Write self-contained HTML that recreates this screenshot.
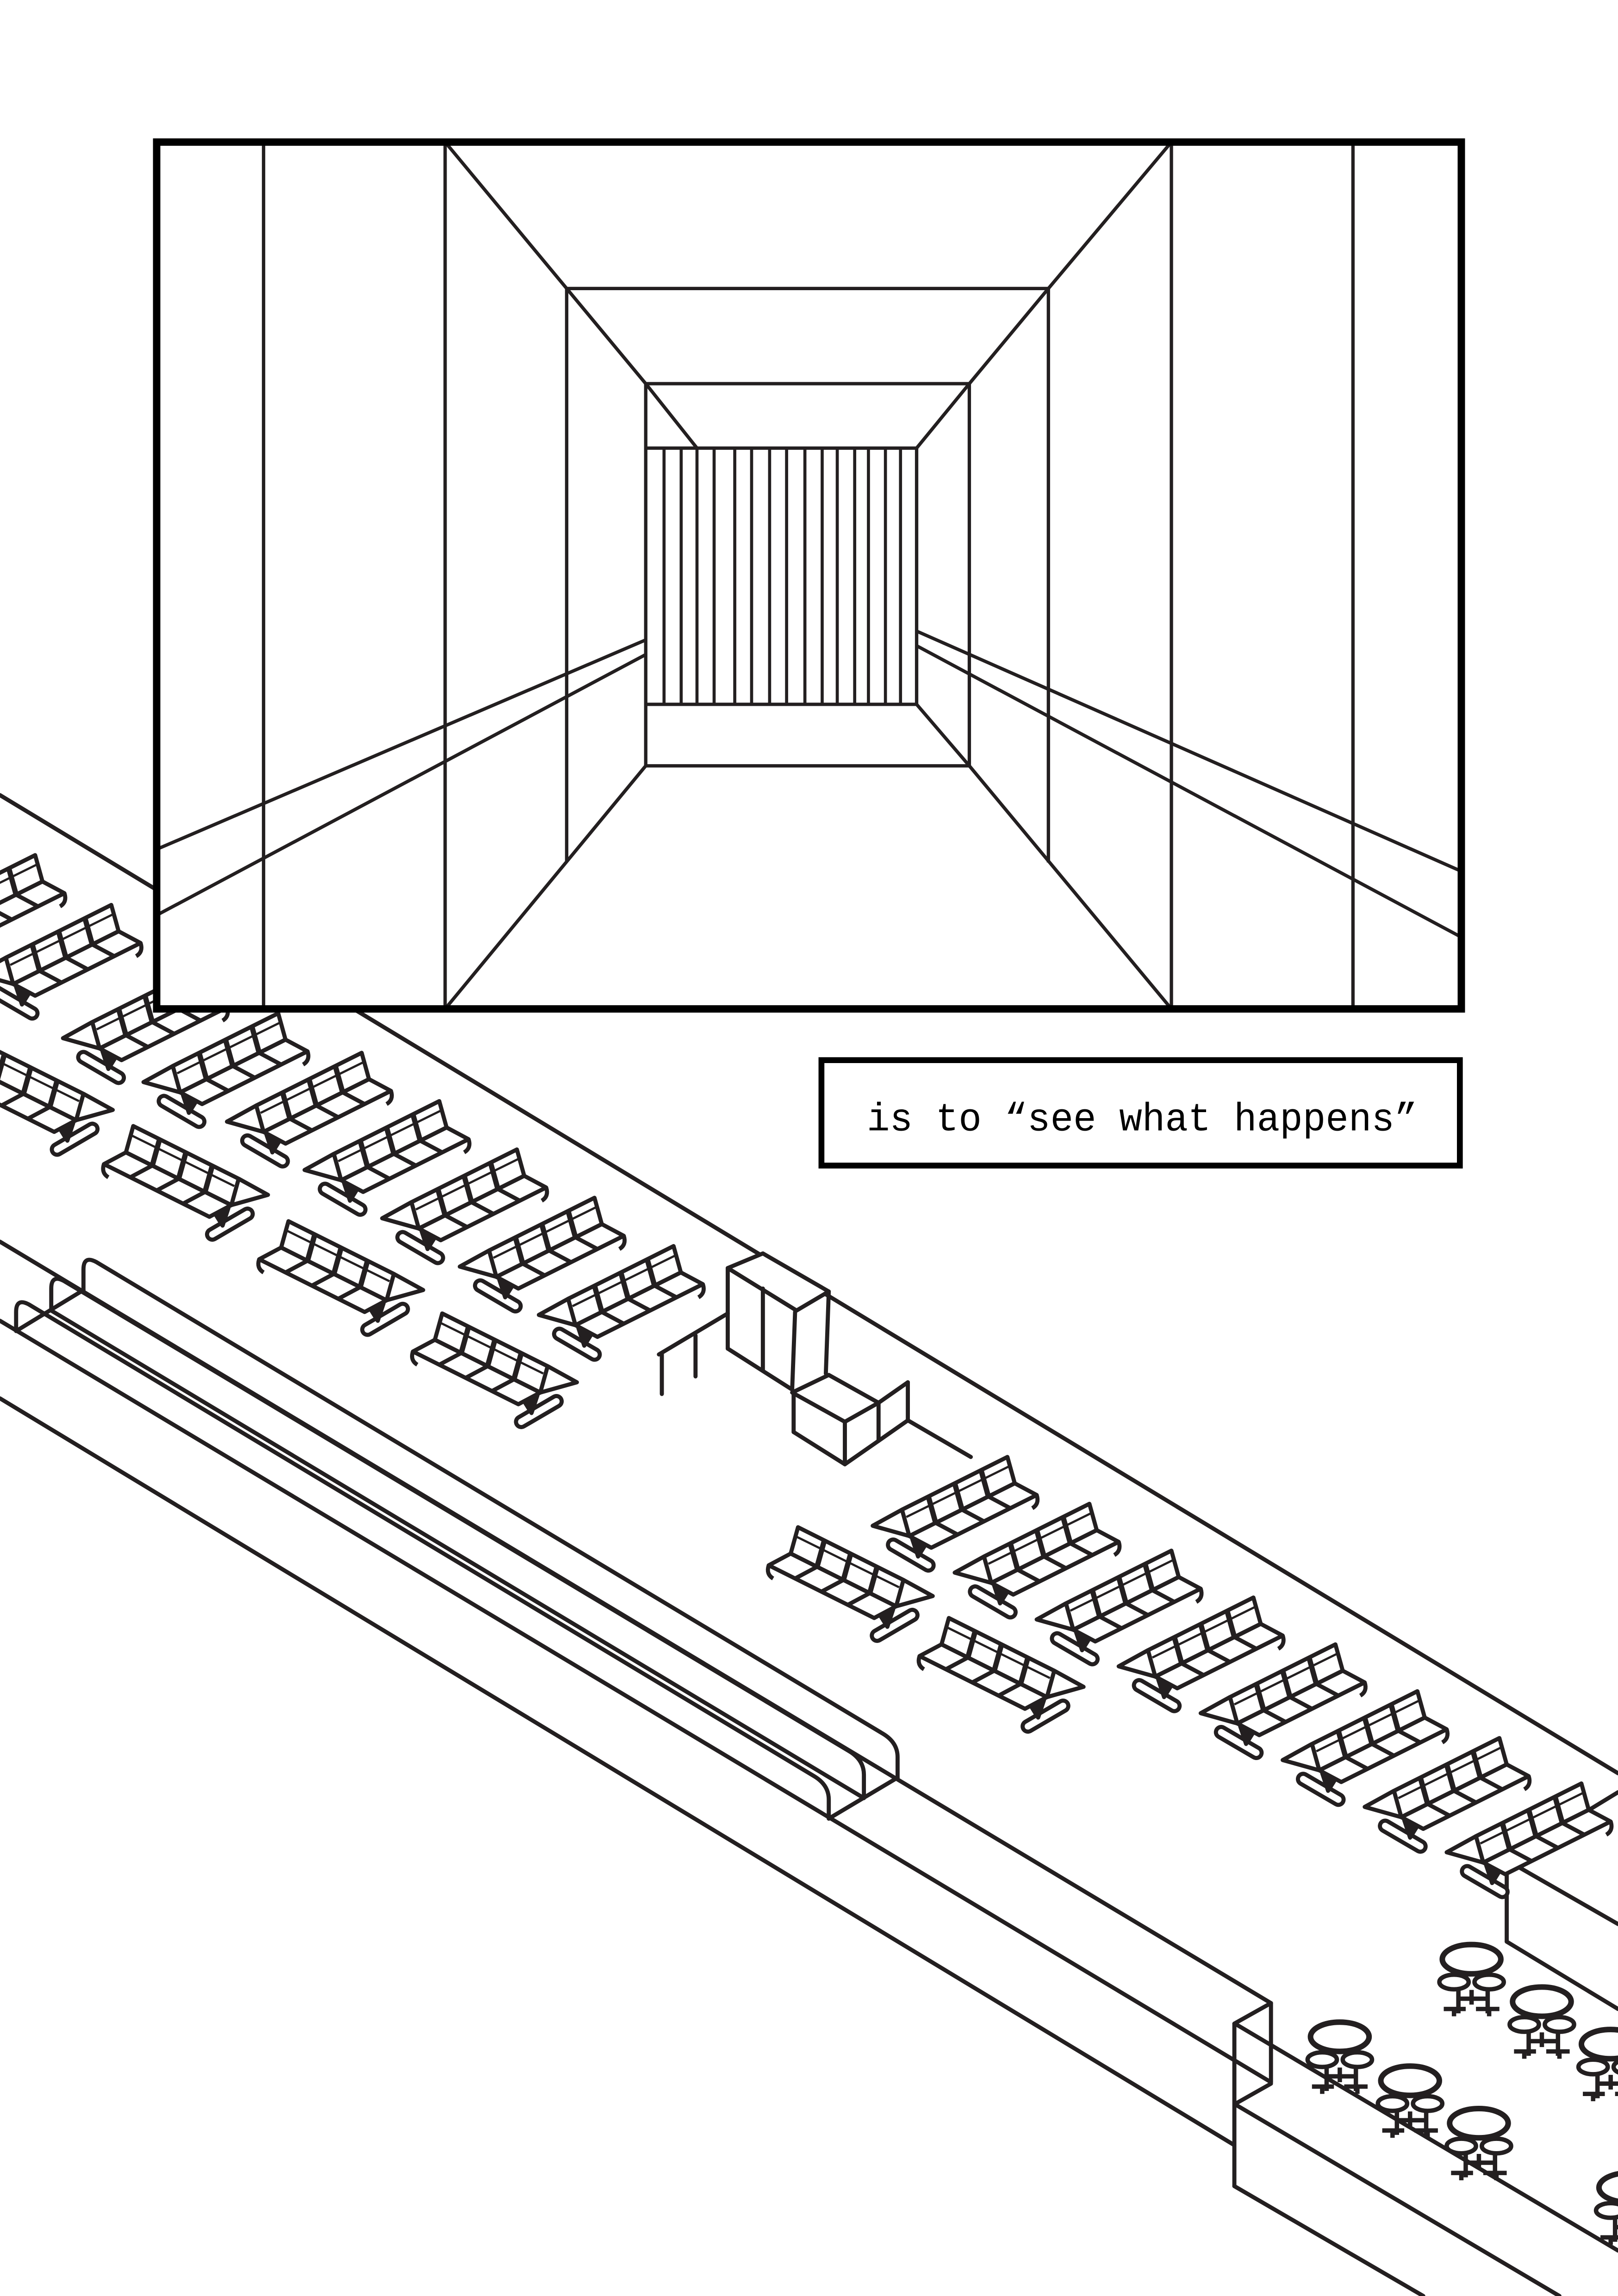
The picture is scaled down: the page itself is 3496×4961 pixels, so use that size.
<!DOCTYPE html>
<html><head><meta charset="utf-8"><style>html,body{margin:0;padding:0;background:#fff}svg{display:block}</style></head>
<body>
<svg width="3496" height="4961" viewBox="0 0 1105 1568" xmlns="http://www.w3.org/2000/svg">
<defs>
<g id="bA" stroke="#231f20" stroke-width="2.8" stroke-linejoin="round" fill="#fff">
 <line x1="14" y1="62" x2="38" y2="76" stroke-width="10" stroke-linecap="round"/>
 <line x1="14" y1="62" x2="38" y2="76" stroke="#fff" stroke-width="4.4" stroke-linecap="round"/>
 <polyline points="25,56 0,49 20,38" fill="none"/>
 <polygon points="20,38 92,2 97,20 25,56"/>
 <line x1="23" y1="43" x2="94" y2="8" stroke-width="1.5"/>
 <polygon points="25,56 97,20 112,28 40,64"/>
 <g stroke-width="3.6">
 <line x1="38" y1="29" x2="43" y2="47"/><line x1="56" y1="20" x2="61" y2="38"/><line x1="74" y1="11" x2="79" y2="29"/>
 </g>
 <line x1="43" y1="47" x2="58" y2="55"/><line x1="61" y1="38" x2="76" y2="46"/><line x1="79" y1="29" x2="94" y2="37"/>
 <polygon points="27,58 31,70 36,62" fill="#231f20"/>
 <path d="M112,28 q2,6 -3,9" fill="none"/>
</g>
<g id="tb" stroke="#231f20" fill="#fff">
 <ellipse cx="0" cy="0" rx="20" ry="10" stroke-width="3.8"/>
 <ellipse cx="-12" cy="15.6" rx="10" ry="5" stroke-width="3"/>
 <ellipse cx="12" cy="15.6" rx="10" ry="5" stroke-width="3"/>
 <g stroke-width="3" fill="none">
 <line x1="0" y1="21" x2="0" y2="31"/><line x1="-9" y1="21" x2="-9" y2="37"/><line x1="11" y1="21" x2="11" y2="37"/>
 <line x1="-9" y1="27" x2="11" y2="27"/>
 <line x1="-19" y1="34" x2="-4" y2="34"/><line x1="3" y1="34" x2="19" y2="34"/>
 <line x1="-12" y1="34" x2="-12" y2="39"/><line x1="12" y1="34" x2="12" y2="39"/>
 </g>
</g>
</defs>
<rect x="0" y="0" width="1105" height="1568" fill="#fff"/>
<g stroke="#231f20" stroke-width="2.8" fill="none" stroke-linejoin="round" stroke-linecap="round">
 <line x1="0" y1="543" x2="1105" y2="1211"/>
 <line x1="0" y1="848" x2="868" y2="1368"/>
 <line x1="0" y1="902" x2="868" y2="1422"/>
 <line x1="0" y1="955" x2="843" y2="1465"/>
 <path d="M57,881 L57,867 Q57,857 66,862 L603,1184 Q613,1190 613,1200 L613,1214"/>
 <path d="M35,895 L35,880 Q35,870 44,875 L580,1196 Q590,1202 590,1212 L590,1226"/>
 <path d="M11,909 L11,896 Q11,886 20,891 L556,1213 Q566,1219 566,1229 L566,1242"/>
 <line x1="35" y1="895" x2="590" y2="1228"/>
 <line x1="566" y1="1242" x2="613" y2="1214"/>
 <line x1="11" y1="909" x2="57" y2="881"/>
 <line x1="843" y1="1382" x2="843" y2="1493"/>
 <line x1="868" y1="1368" x2="868" y2="1422"/>
 <line x1="843" y1="1382" x2="868" y2="1368"/>
 <line x1="845" y1="1383" x2="1105" y2="1537"/>
 <line x1="845" y1="1436" x2="868" y2="1423"/>
 <line x1="845" y1="1438" x2="1065" y2="1568"/>
 <line x1="843" y1="1493" x2="972" y2="1568"/>
 <line x1="1029" y1="1272" x2="1029" y2="1326"/>
 <line x1="1029" y1="1326" x2="1105" y2="1372"/>
 <line x1="1030" y1="1271" x2="1105" y2="1314"/>
 <line x1="1028" y1="1271" x2="1105" y2="1224"/>
 <polygon points="497,866 521,856 566,882 544,895" fill="#fff"/>
 <line x1="497" y1="866" x2="497" y2="921"/>
 <line x1="521" y1="880" x2="521" y2="936"/>
 <line x1="543" y1="896" x2="541" y2="949"/>
 <line x1="566" y1="882" x2="564" y2="938"/>
 <line x1="497" y1="921" x2="541" y2="949"/>
 <polygon points="541,951 566,939 600,958 577,971" fill="#fff"/>
 <line x1="577" y1="971" x2="577" y2="1000"/>
 <line x1="542" y1="951" x2="542" y2="978"/>
 <line x1="542" y1="978" x2="577" y2="1000"/>
 <line x1="600" y1="958" x2="600" y2="984"/>
 <line x1="577" y1="1000" x2="600" y2="984"/>
 <line x1="600" y1="958" x2="620" y2="944"/>
 <line x1="620" y1="944" x2="620" y2="970"/>
 <line x1="620" y1="970" x2="663" y2="995"/>
 <line x1="600" y1="984" x2="620" y2="970"/>
 <line x1="450" y1="925" x2="497" y2="897"/>
 <line x1="452" y1="925" x2="452" y2="952"/>
 <line x1="475" y1="912" x2="475" y2="940"/>
</g>
<use href="#bA" transform="translate(-68,582)"/>
<use href="#bA" transform="translate(-16,616)"/>
<use href="#bA" transform="translate(43,660)"/>
<use href="#bA" transform="translate(98,690)"/>
<use href="#bA" transform="translate(155,717)"/>
<use href="#bA" transform="translate(208,750)"/>
<use href="#bA" transform="translate(261,783)"/>
<use href="#bA" transform="translate(314,816)"/>
<use href="#bA" transform="translate(368,849)"/>
<use href="#bA" transform="translate(596,993)"/>
<use href="#bA" transform="translate(652,1025)"/>
<use href="#bA" transform="translate(708,1057)"/>
<use href="#bA" transform="translate(764,1089)"/>
<use href="#bA" transform="translate(820,1121)"/>
<use href="#bA" transform="translate(876,1153)"/>
<use href="#bA" transform="translate(932,1185)"/>
<use href="#bA" transform="translate(988,1216)"/>
<use href="#bA" transform="translate(77,709) scale(-1,1)"/>
<use href="#bA" transform="translate(183,767) scale(-1,1)"/>
<use href="#bA" transform="translate(289,832) scale(-1,1)"/>
<use href="#bA" transform="translate(394,895) scale(-1,1)"/>
<use href="#bA" transform="translate(637,1041) scale(-1,1)"/>
<use href="#bA" transform="translate(740,1103) scale(-1,1)"/>
<use href="#tb" transform="translate(1005,1338)"/>
<use href="#tb" transform="translate(1053,1367)"/>
<use href="#tb" transform="translate(1100,1396)"/>
<use href="#tb" transform="translate(915,1391)"/>
<use href="#tb" transform="translate(963,1421)"/>
<use href="#tb" transform="translate(1010,1450)"/>
<use href="#tb" transform="translate(1112,1494)"/>
<rect x="107" y="97" width="891" height="592" fill="#fff" stroke="#231f20" stroke-width="5"/>
<g stroke="#231f20" stroke-width="2.3" fill="none" stroke-linecap="butt">
 <line x1="180" y1="97" x2="180" y2="689"/>
 <line x1="304" y1="97" x2="304" y2="689"/>
 <line x1="800" y1="97" x2="800" y2="689"/>
 <line x1="924" y1="97" x2="924" y2="689"/>
 <line x1="304" y1="97" x2="387" y2="197"/>
 <line x1="800" y1="97" x2="716" y2="197"/>
 <line x1="304" y1="689" x2="441" y2="523"/>
 <line x1="800" y1="689" x2="662" y2="523"/>
 <line x1="387" y1="197" x2="716" y2="197"/>
 <line x1="387" y1="197" x2="387" y2="588"/>
 <line x1="716" y1="197" x2="716" y2="589"/>
 <line x1="387" y1="197" x2="441" y2="262"/>
 <line x1="716" y1="197" x2="662" y2="262"/>
 <line x1="441" y1="262" x2="662" y2="262"/>
 <line x1="441" y1="262" x2="441" y2="523"/>
 <line x1="662" y1="262" x2="662" y2="523"/>
 <line x1="441" y1="523" x2="662" y2="523"/>
 <line x1="441" y1="262" x2="476" y2="306"/>
 <line x1="662" y1="262" x2="626" y2="306"/>
 <line x1="441" y1="306" x2="626" y2="306"/>
 <line x1="626" y1="306" x2="626" y2="481"/>
 <line x1="441" y1="481" x2="626" y2="481"/>
 <line x1="626" y1="481" x2="662" y2="523"/>
 <line x1="107" y1="580" x2="441" y2="437"/>
 <line x1="107" y1="625" x2="441" y2="447"/>
 <line x1="626" y1="431" x2="998" y2="595"/>
 <line x1="626" y1="441" x2="998" y2="640"/>
 <g stroke-width="2.1">
 <line x1="453.5" y1="306" x2="453.5" y2="481"/>
 <line x1="465.2" y1="306" x2="465.2" y2="481"/>
 <line x1="476" y1="306" x2="476" y2="481"/>
 <line x1="487.7" y1="306" x2="487.7" y2="481"/>
 <line x1="501.8" y1="306" x2="501.8" y2="481"/>
 <line x1="513.3" y1="306" x2="513.3" y2="481"/>
 <line x1="525.6" y1="306" x2="525.6" y2="481"/>
 <line x1="537.2" y1="306" x2="537.2" y2="481"/>
 <line x1="549.7" y1="306" x2="549.7" y2="481"/>
 <line x1="561.5" y1="306" x2="561.5" y2="481"/>
 <line x1="571.8" y1="306" x2="571.8" y2="481"/>
 <line x1="583.7" y1="306" x2="583.7" y2="481"/>
 <line x1="593.1" y1="306" x2="593.1" y2="481"/>
 <line x1="604.7" y1="306" x2="604.7" y2="481"/>
 <line x1="615" y1="306" x2="615" y2="481"/>
 </g>
</g>
<rect x="107" y="97" width="891" height="592" fill="none" stroke="#000" stroke-width="5"/>
<rect x="561" y="724" width="436" height="72" fill="#fff" stroke="#000" stroke-width="4"/>
<text x="592" y="772" font-family="Liberation Mono, monospace" font-size="27" fill="#000" textLength="376" lengthAdjust="spacingAndGlyphs">is to “see what happens”</text>
</svg>
</body></html>
